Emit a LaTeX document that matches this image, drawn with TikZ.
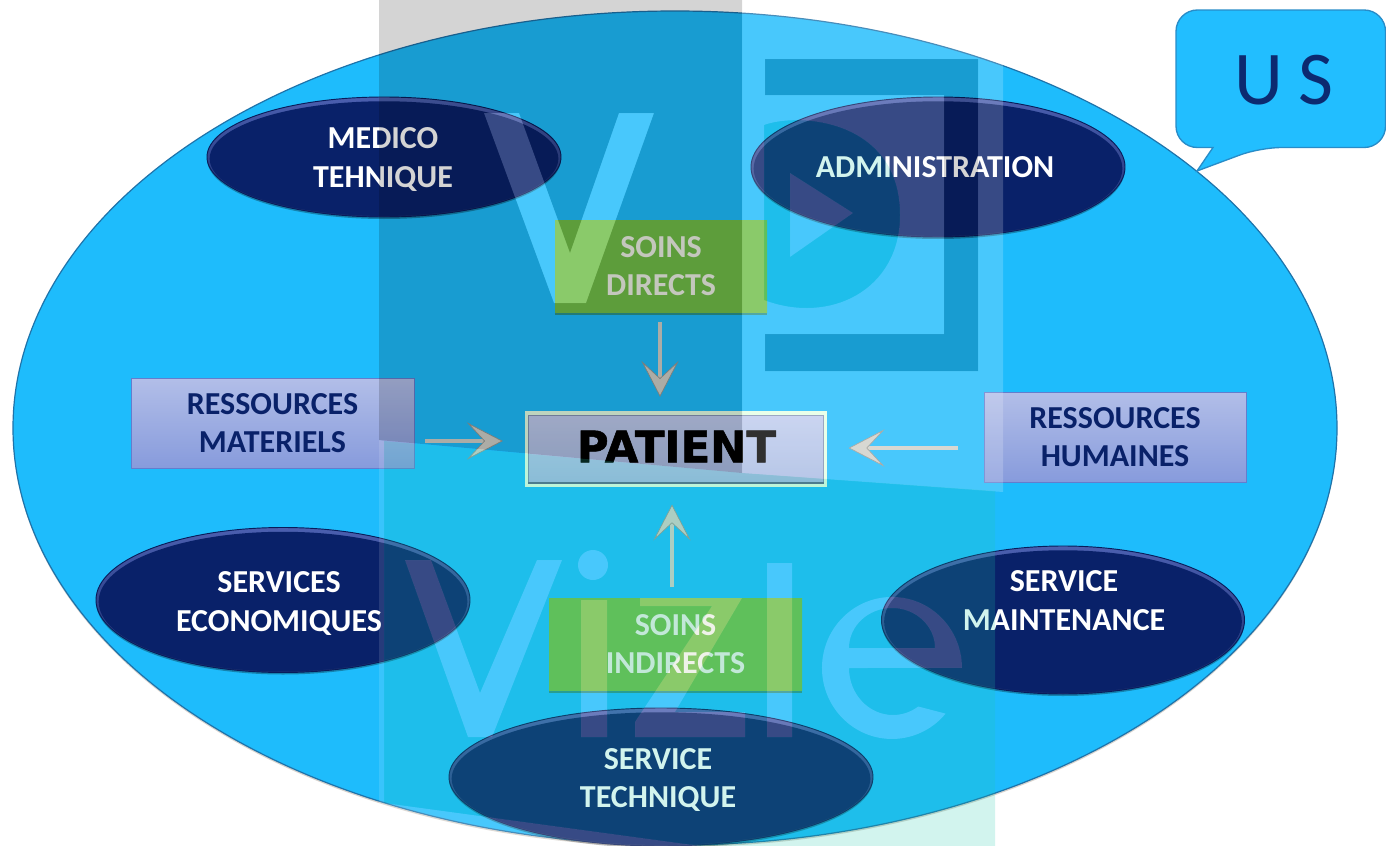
\documentclass[tikz,border=0pt]{standalone}
\usepackage{fontspec}
\newfontfamily\carl{Carlito}
\newfontfamily\dejav{DejaVu Sans}[BoldFeatures={FakeBold=1.3}]
\usetikzlibrary{shapes.geometric,arrows.meta,shadows,calc}
\definecolor{basecol}{RGB}{30,188,252}
\definecolor{rimcol}{RGB}{30,115,170}
\definecolor{navyA}{RGB}{9,33,105}
\definecolor{navyB}{RGB}{8,28,90}
\definecolor{navyR}{RGB}{75,95,175}
\definecolor{lilacA}{RGB}{178,190,232}
\definecolor{lilacB}{RGB}{135,155,220}
\definecolor{lilacR}{RGB}{100,125,205}
\definecolor{greenA}{RGB}{112,190,72}
\definecolor{greenB}{RGB}{96,172,52}
\definecolor{greenR}{RGB}{55,115,50}
\definecolor{paleT}{RGB}{236,240,228}
\definecolor{silver}{RGB}{208,208,200}
\definecolor{silverD}{RGB}{150,150,145}
\definecolor{tealov}{RGB}{30,200,170}
\definecolor{ustext}{RGB}{12,42,112}
\definecolor{patA}{RGB}{192,204,238}
\definecolor{patB}{RGB}{165,185,226}
\definecolor{patI}{RGB}{88,104,135}
\definecolor{bubblecol}{RGB}{34,190,255}
\definecolor{bubblerim}{RGB}{40,140,200}
\tikzset{
  mainoval/.style={ellipse,draw=rimcol,line width=.9pt,fill=basecol,inner sep=0pt,minimum width=993pt,minimum height=625.5pt,
    drop shadow={shadow xshift=0pt,shadow yshift=-1.5pt,opacity=.22,fill=black!60!brown}},
  darkoval/.style={ellipse,draw=navyB,line width=.7pt,top color=navyR,bottom color=navyR!25!navyB,inner sep=0pt,
    path picture={\path let \p1=(path picture bounding box.north east),\p2=(path picture bounding box.center),
      \n1={\x1-\x2-2pt},\n2={\y1-\y2-2pt} in
      [fill=navyA] ([yshift=-1.2pt]path picture bounding box.center) ellipse[x radius=\n1,y radius=\n2];},
    drop shadow={shadow xshift=0pt,shadow yshift=-1.5pt,opacity=.3,fill=black}},
  lilacbox/.style={rectangle,draw=lilacR,line width=.7pt,top color=lilacA,bottom color=lilacB,inner sep=0pt,
    minimum width=#1,minimum height=67.5pt,text=navyA,font=\fontsize{24}{29}\selectfont\carl\bfseries,align=center},
  greenbox/.style={rectangle,left color=greenA,middle color=greenB,right color=greenA,inner sep=0pt,minimum height=69pt,minimum width=#1,
    text=paleT,font=\fontsize{24}{29}\selectfont\carl\bfseries,align=center,
    drop shadow={shadow xshift=0pt,shadow yshift=-2pt,opacity=.55,fill=greenR}},
  patientbox/.style={rectangle,draw=white!90!green,line width=2.3pt,top color=patA,bottom color=patB,
    inner sep=0pt,minimum width=224.5pt,minimum height=54pt},
  patienttext/.style={text=black,font=\fontsize{32.5}{36}\selectfont\dejav\bfseries,inner sep=0pt},
  patientrim/.style={draw=patI,draw opacity=.55,line width=.6pt},
  patientbase/.style={draw=patI,line width=1.3pt},
  conn/.style={draw=silver,line width=3pt,-{Stealth[length=27pt,width=28pt,inset=13pt,fill=silver,color=silverD,line width=.5pt]}},
  plainlabel/.style={text=white,font=\fontsize{24}{29}\selectfont\carl\bfseries,align=center,inner sep=0pt},
  bubble/.style={fill=bubblecol,draw=bubblerim,line width=1pt,rounded corners=16pt},
  ustextstyle/.style={text=ustext,font=\fontsize{57}{60}\selectfont\carl,inner sep=0pt}
}
% watermark outlines
\def\Vtop{(484,113)--(519,113)--(570,253)--(619,113)--(654,113)--(586,303)--(554,303)--cycle}
\def\bracket{(765,59)--(978,59)--(978,371)--(765,371)--(765,334)--(944,334)--(944,95)--(765,95)--cycle}
\def\Dshape{(764,125) .. controls (800,112) and (900,120) .. (900,215) .. controls (900,290) and (830,325) .. (764,300) -- cycle}
\def\tri{(790,173)--(853,213)--(790,257)--cycle}
\def\letters{(405,560)--(431,560)--(480,693)--(537,560)--(562,560)--(492,737)--(468,737)--cycle
  (593,565) circle[radius=15]
  (581,600)--(607,600)--(607,737)--(581,737)--cycle
  (640,598)--(742,598)--(675,712)--(745,712)--(745,737)--(635,737)--(635,722)--(712,606)--(640,606)--cycle
  (767,563)--(792,563)--(792,737)--(767,737)--cycle
  (945.6,713.6) arc[start angle=40,end angle=360,x radius=70,y radius=71] -- (849,668) arc[start angle=180,end angle=55,x radius=44,y radius=47] -- cycle
  (849,648) arc[start angle=180,end angle=360,x radius=43,y radius=40] -- cycle}
\begin{document}
\begin{tikzpicture}[x=0.75pt,y=-0.75pt]
\useasboundingbox (0,0) rectangle (1386,846);
\fill[white] (0,0) rectangle (1386,846);
\begin{scope}
\clip (0,0) rectangle (1386,846);
\node[mainoval] (us) at (675,428) {};
% speech bubble
\draw[bubble] (1213,147.5) -- (1176,147.5) -- (1176,10) -- (1385.5,10) -- (1385.5,147.5) -- (1260,147.5) [sharp corners] -- (1197,171) -- cycle;
\node[ustextstyle] (ustxt) at (1284,80) {U\hspace{0.2em}S};
% ovals
\node[darkoval,minimum width=265.5pt,minimum height=90pt] (medico) at (384,157) {};
\node[plainlabel] (medicotxt) at (383,159.5) {MEDICO\\TEHNIQUE};
\node[darkoval,minimum width=280.5pt,minimum height=105pt] (admin) at (938,167) {};
\node[plainlabel] (admintxt) at (935,167) {ADMINISTRATION};
\node[darkoval,minimum width=280.5pt,minimum height=108.75pt] (eco) at (283,600) {};
\node[plainlabel] (ecotxt) at (279,603.5) {SERVICES\\ECONOMIQUES};
\node[darkoval,minimum width=272.25pt,minimum height=111pt] (maint) at (1063,620) {};
\node[plainlabel] (mainttxt) at (1064,600.5) {SERVICE\\MAINTENANCE};
\node[darkoval,minimum width=318pt,minimum height=103.5pt] (tech) at (661,777) {};
\node[plainlabel] (techtxt) at (658,780) {SERVICE\\TECHNIQUE};
% boxes
\node[lilacbox=212.25pt] (rm) at (272.5,423) {RESSOURCES\\MATERIELS};
\node[lilacbox=196.5pt] (rh) at (1115,437) {RESSOURCES\\HUMAINES};
\node[greenbox=159pt] (sd) at (661,266) {SOINS\\DIRECTS};
\node[greenbox=189.75pt] (si) at (675.5,644) {SOINS\\INDIRECTS};
\node[patientbox] (patient) at (676,449) {};
\draw[patientrim] ([xshift=2.6pt,yshift=-2.6pt]patient.north west) rectangle ([xshift=-2.6pt,yshift=2.6pt]patient.south east);
\draw[patientbase] ([xshift=2.6pt,yshift=2.8pt]patient.south west) -- ([xshift=-2.6pt,yshift=2.8pt]patient.south east);
\node[patienttext] (patienttxt) at (676.5,446.5) {PATIENT};
% connectors
\coordinate (ya) at (0,441);
\coordinate (yb) at (0,448);
\coordinate (xa) at (660,0);
\coordinate (xb) at (672,0);
\draw[conn,shorten <=7.5pt,shorten >=11pt] (xa |- sd.south) -- (xa |- patient.north);
\draw[conn,shorten <=8pt,shorten >=13.5pt] (xb |- si.north) -- (xb |- patient.south);
\draw[conn,shorten <=8pt,shorten >=16.5pt] (rm.east |- ya) -- (patient.west |- ya);
\draw[conn,shorten <=19pt,shorten >=16pt] (rh.west |- yb) -- (patient.east |- yb);
% watermark
\fill[black,opacity=.17,even odd rule] (379,0)--(742,0)--(742,473)--(379,440)--cycle \Vtop;
\fill[white,opacity=.19] \Vtop;
\fill[white,opacity=.19,even odd rule] (742,0)--(1003,0)--(1003,492)--(742,473)--cycle \bracket \Dshape \tri;
\fill[black,opacity=.17] \bracket;
\fill[tealov,opacity=.2,even odd rule] \Dshape \tri;
\fill[tealov,opacity=.2,even odd rule] (384,441) -- (742,473) -- (995,491) -- (995,846) -- (700,846) -- (384,803) -- cycle \letters;
\fill[white,opacity=.19,even odd rule] \letters;
\fill[white,opacity=.19] (384,803)--(700,846)--(384,846)--cycle;
\fill[white,opacity=.12] (379,440)--(384,441)--(384,846)--(379,846)--cycle;
\end{scope}
\end{tikzpicture}
\end{document}
